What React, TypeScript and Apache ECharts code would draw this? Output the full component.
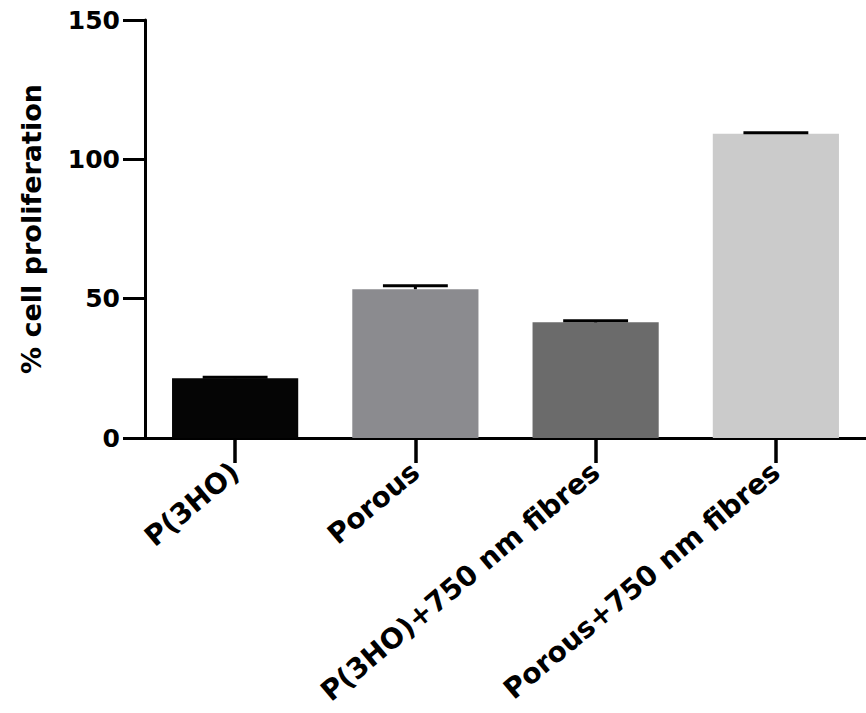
import React, { useEffect, useRef } from "react";
import * as echarts from "echarts";

const categories = ["P(3HO)", "Porous", "P(3HO)+750 nm fibres", "Porous+750 nm fibres"];
const means = [21.4, 53.4, 41.5, 109.2];
const errors = [0.4, 1.2, 0.6, 0.3];
const barColors = ["#050505", "#8b8b8f", "#6b6b6b", "#cbcbcb"];
const yTicks = { min: 0, max: 150, interval: 50 };
const yTitle = "% cell proliferation";

const FONT = "'DejaVu Sans', 'Liberation Sans', Arial, sans-serif";

export default function App() {
  const ref = useRef<HTMLDivElement>(null);
  useEffect(() => {
    if (!ref.current) return;
    const chart = echarts.init(ref.current, null, { renderer: "svg" });
    const errData = means.map((m, i) => [i, m, m + errors[i]]);
    chart.setOption({
      animation: false,
      backgroundColor: "#ffffff",
      grid: { left: 145, top: 20, bottom: 275, right: -6, containLabel: false },
      xAxis: {
        type: "category",
        data: categories,
        axisLine: { lineStyle: { color: "#000", width: 3 } },
        axisTick: {
          show: true,
          alignWithLabel: true,
          length: 25,
          interval: 0,
          lineStyle: { color: "#000", width: 3.5 },
        },
        axisLabel: {
          rotate: 40,
          margin: 30,
          color: "#000",
          fontFamily: FONT,
          fontWeight: "bold",
          fontSize: 28,
          interval: 0,
        },
      },
      yAxis: {
        type: "value",
        min: yTicks.min,
        max: yTicks.max,
        interval: yTicks.interval,
        name: yTitle,
        nameLocation: "middle",
        nameGap: 100,
        nameTextStyle: { color: "#000", fontFamily: FONT, fontWeight: "bold", fontSize: 27 },
        splitLine: { show: false },
        axisLine: { show: true, lineStyle: { color: "#000", width: 3 } },
        axisTick: { show: true, length: 22, lineStyle: { color: "#000", width: 3 } },
        axisLabel: { margin: 25, color: "#000", fontFamily: FONT, fontWeight: "bold", fontSize: 25 },
      },
      series: [
        {
          type: "bar",
          barWidth: "70%",
          data: means.map((v, i) => ({ value: v, itemStyle: { color: barColors[i] } })),
          z: 2,
        },
        {
          type: "custom",
          data: errData,
          z: 3,
          renderItem: (params: any, api: any) => {
            const idx = api.value(0);
            const lo = api.coord([idx, api.value(1)]);
            const hi = api.coord([idx, api.value(2)]);
            const band = api.size([1, 0])[0];
            const half = band * 0.18;
            return {
              type: "group",
              children: [
                {
                  type: "line",
                  shape: { x1: lo[0], y1: lo[1], x2: hi[0], y2: hi[1] },
                  style: { stroke: "#000", lineWidth: 3 },
                },
                {
                  type: "line",
                  shape: { x1: hi[0] - half, y1: hi[1], x2: hi[0] + half, y2: hi[1] },
                  style: { stroke: "#000", lineWidth: 3 },
                },
              ],
            };
          },
        },
      ],
    });
    return () => chart.dispose();
  }, []);
  return (
    <div
      ref={ref}
      style={{ position: "fixed", left: 0, top: 0, width: 866, height: 713, background: "#fff" }}
    />
  );
}
